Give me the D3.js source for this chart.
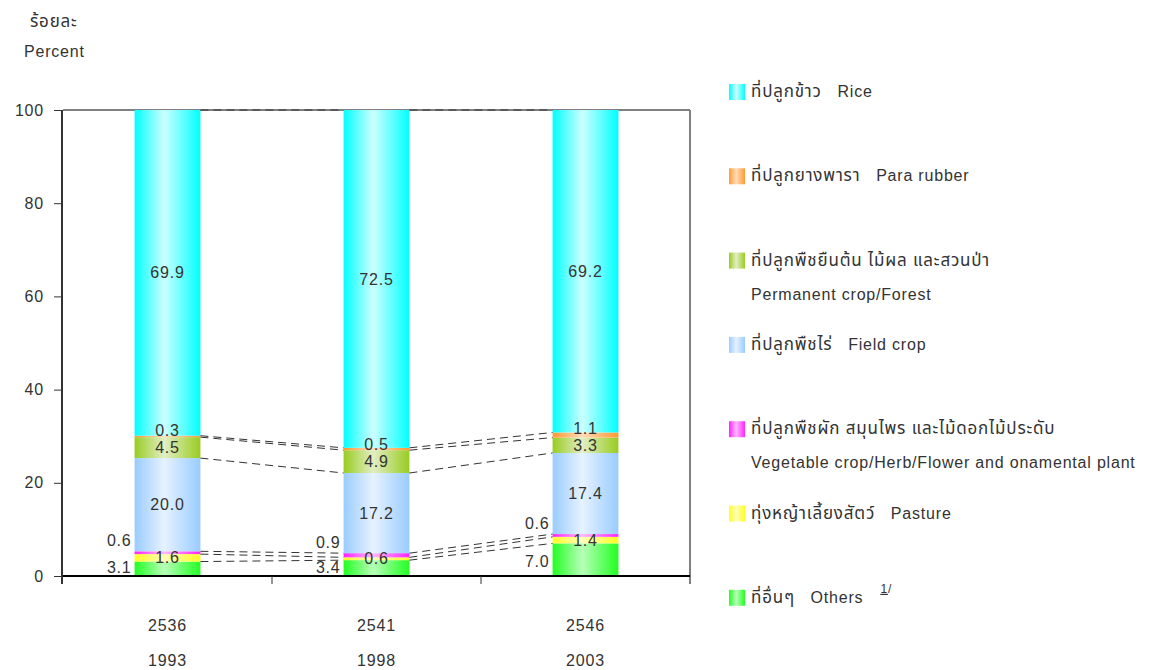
<!DOCTYPE html>
<html>
<head>
<meta charset="utf-8">
<script src="https://cdn.jsdelivr.net/npm/d3@7"></script>
<style>
  html, body { margin: 0; padding: 0; background: #fff; }
  svg text { font-family: "Liberation Sans", "Noto Sans Thai", "Noto Sans", Arial, sans-serif; letter-spacing: 0.8px; }
</style>
</head>
<body>
<svg id="chart" width="1149" height="670"></svg>
<script>
// Land use shares (percent), stacked bottom to top
const yearsBE = ["2536", "2541", "2546"];
const yearsAD = ["1993", "1998", "2003"];
const seriesKeys = ["others", "pasture", "vegetable", "field", "permanent", "rubber", "rice"];
const others    = [3.1, 3.4, 7.0];
const pasture   = [1.6, 0.6, 1.4];
const vegetable = [0.6, 0.9, 0.6];
const field     = [20.0, 17.2, 17.4];
const permanent = [4.5, 4.9, 3.3];
const rubber    = [0.3, 0.5, 1.1];
const rice      = [69.9, 72.5, 69.2];
const yTicks = [0, 20, 40, 60, 80, 100];

// Legend, top to bottom
const legendKeys = ["rice", "rubber", "permanent", "field", "vegetable", "pasture", "others"];
const legendThai = ["ที่ปลูกข้าว", "ที่ปลูกยางพารา", "ที่ปลูกพืชยืนต้น ไม้ผล และสวนป่า", "ที่ปลูกพืชไร่",
                    "ที่ปลูกพืชผัก สมุนไพร และไม้ดอกไม้ประดับ", "ทุ่งหญ้าเลี้ยงสัตว์", "ที่อื่นๆ"];
const legendEng  = ["Rice", "Para rubber", "Permanent crop/Forest", "Field crop",
                    "Vegetable crop/Herb/Flower and onamental plant", "Pasture", "Others"];

const seriesValues = { others, pasture, vegetable, field, permanent, rubber, rice };

// edge colour / centre highlight of each cylinder-like bar
const palette = {
  rice:      ["#00ffff", "#ccffff"],
  rubber:    ["#ff9933", "#ffdcb8"],
  permanent: ["#99cc22", "#e2eec4"],
  field:     ["#99ccff", "#e6f2ff"],
  vegetable: ["#ff22ff", "#ffb8ff"],
  pasture:   ["#ffff22", "#ffffbb"],
  others:    ["#22ff22", "#b8ffb8"]
};
// labels drawn outside, to the left of the bar
const leftLabelled = new Set(["others", "vegetable"]);

const svg = d3.select("#chart");
const plot = { left: 63, right: 690, top: 110, bottom: 576 };
const fontSize = 16;

const table = yearsBE.map((y, i) => {
  const row = { year: y };
  seriesKeys.forEach(k => row[k] = seriesValues[k][i]);
  return row;
});
const stacked = d3.stack().keys(seriesKeys)(table);

const x = d3.scaleBand().domain(yearsBE).range([plot.left, plot.right]).padding(0);
const y = d3.scaleLinear().domain([0, 100]).range([plot.bottom, plot.top]);
const barW = x.bandwidth() * 0.315;
const barX = yr => x(yr) + (x.bandwidth() - barW) / 2;

// gradients
const defs = svg.append("defs");
seriesKeys.forEach(k => {
  const g = defs.append("linearGradient").attr("id", "g-" + k)
    .attr("x1", 0).attr("x2", 1).attr("y1", 0).attr("y2", 0);
  g.append("stop").attr("offset", "0%").attr("stop-color", palette[k][0]);
  g.append("stop").attr("offset", "45%").attr("stop-color", palette[k][1]);
  g.append("stop").attr("offset", "100%").attr("stop-color", palette[k][0]);
});

// frame: grey top and right edges
svg.append("line").attr("x1", plot.left).attr("x2", plot.right)
  .attr("y1", plot.top).attr("y2", plot.top).attr("stroke", "#808080").attr("stroke-width", 2);
svg.append("line").attr("x1", plot.right).attr("x2", plot.right)
  .attr("y1", plot.top).attr("y2", plot.bottom + 8).attr("stroke", "#808080").attr("stroke-width", 2);

// bars
const layers = svg.append("g").selectAll("g").data(stacked).join("g")
  .attr("fill", d => `url(#g-${d.key})`);
layers.selectAll("rect").data(d => d).join("rect")
  .attr("x", d => barX(d.data.year))
  .attr("width", barW)
  .attr("y", d => y(d[1]))
  .attr("height", d => y(d[0]) - y(d[1]));

// dashed connectors between bar boundaries
const connectors = svg.append("g").attr("stroke", "#333").attr("stroke-width", 1)
  .attr("stroke-dasharray", "8,5").attr("fill", "none");
stacked.forEach(layer => {
  for (let i = 0; i < yearsBE.length - 1; i++) {
    connectors.append("line")
      .attr("x1", barX(yearsBE[i]) + barW).attr("y1", y(layer[i][1]))
      .attr("x2", barX(yearsBE[i + 1])).attr("y2", y(layer[i + 1][1]));
  }
});

// value labels
const labels = svg.append("g").attr("font-size", fontSize).attr("fill", "#333");
yearsBE.forEach((yr, i) => {
  // inside labels, nudged apart when segments are thin
  const inside = stacked.filter(l => !leftLabelled.has(l.key))
    .map(l => ({ v: l[i][1] - l[i][0], pos: y((l[i][0] + l[i][1]) / 2) }))
    .sort((a, b) => b.pos - a.pos);
  for (let j = 1; j < inside.length; j++) {
    if (inside[j - 1].pos - inside[j].pos < 17) inside[j].pos = inside[j - 1].pos - 17;
  }
  inside.forEach(d => labels.append("text")
    .attr("x", barX(yr) + barW / 2).attr("y", d.pos).attr("dy", "0.35em")
    .attr("text-anchor", "middle").text(d3.format(".1f")(d.v)));

  stacked.filter(l => leftLabelled.has(l.key)).forEach(l => {
    const seg = l[i];
    const t = labels.append("text").attr("x", barX(yr) - 3).attr("text-anchor", "end")
      .text(d3.format(".1f")(seg[1] - seg[0]));
    if (l.key === "vegetable") t.attr("y", y(seg[1]) - 5);
    else t.attr("y", Math.min(y((seg[0] + seg[1]) / 2) + 7, plot.bottom - 3));
  });
});

// y axis
const yAxis = svg.append("g").attr("transform", `translate(${plot.left - 1},0)`)
  .call(d3.axisLeft(y).tickValues(yTicks).tickSize(8).tickPadding(10).tickSizeOuter(0));
yAxis.select(".domain").attr("stroke", "#333").attr("stroke-width", 2)
  .attr("d", `M0,${plot.top}V${plot.bottom + 8}`);
yAxis.selectAll(".tick line").attr("stroke", "#333");
yAxis.selectAll(".tick text").attr("font-size", fontSize).attr("fill", "#333")
  .style("font-family", "Liberation Sans, Arial, sans-serif");

// x axis baseline with ticks at category boundaries
svg.append("line").attr("x1", plot.left).attr("x2", plot.right)
  .attr("y1", plot.bottom).attr("y2", plot.bottom).attr("stroke", "#000").attr("stroke-width", 2);
yearsBE.slice(1).forEach(yr => svg.append("line")
  .attr("x1", x(yr)).attr("x2", x(yr)).attr("y1", plot.bottom).attr("y2", plot.bottom + 8)
  .attr("stroke", "#333").attr("stroke-width", 1));
const xl = svg.append("g").attr("font-size", fontSize).attr("fill", "#333").attr("text-anchor", "middle");
yearsBE.forEach((yr, i) => {
  const cx = x(yr) + x.bandwidth() / 2;
  xl.append("text").attr("x", cx).attr("y", 631).text(yr);
  xl.append("text").attr("x", cx).attr("y", 666).text(yearsAD[i]);
});

// axis title
svg.append("text").attr("x", 30).attr("y", 27).attr("font-size", 17).attr("fill", "#333").text("ร้อยละ");
svg.append("text").attr("x", 24).attr("y", 57).attr("font-size", fontSize).attr("fill", "#333").text("Percent");

// legend
const legend = svg.append("g").attr("font-size", fontSize).attr("fill", "#333");
legendKeys.forEach((k, i) => {
  const ly = 92 + i * 84.3;
  legend.append("rect").attr("x", 729).attr("y", ly - 8).attr("width", 16).attr("height", 16)
    .attr("fill", `url(#g-${k})`);
  const twoLine = k === "permanent" || k === "vegetable";
  const t = legend.append("text").attr("x", 751).attr("y", ly + 5).attr("xml:space", "preserve");
  t.append("tspan").attr("font-size", 17).text(legendThai[i]);
  if (twoLine) {
    legend.append("text").attr("x", 751).attr("y", ly + 39).text(legendEng[i]);
  } else {
    t.append("tspan").text("   " + legendEng[i]);
  }
  if (k === "others") {
    t.append("tspan").attr("dx", 17).attr("dy", -10).attr("font-size", 12)
      .attr("text-decoration", "underline").text("1");
    t.append("tspan").attr("font-size", 12).text("/");
  }
});
</script>
</body>
</html>
